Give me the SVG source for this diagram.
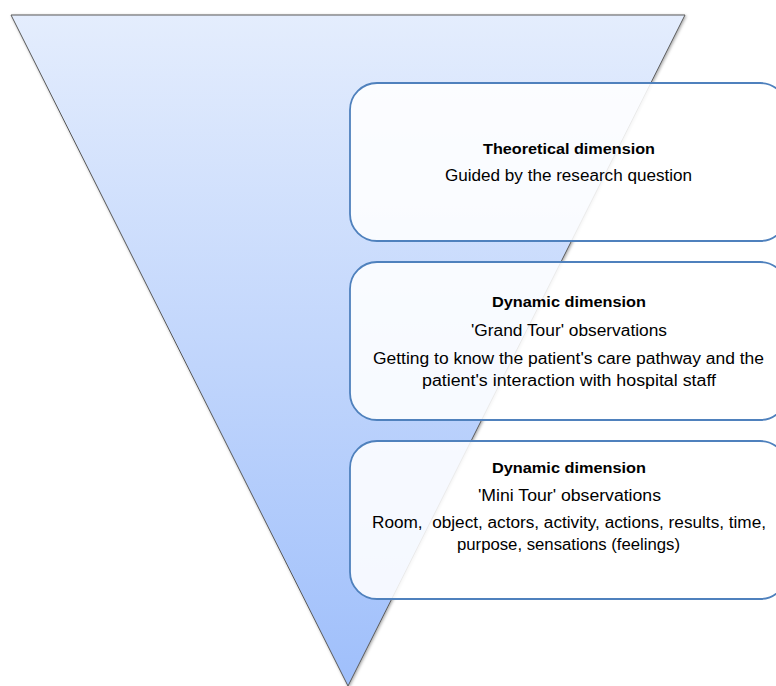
<svg xmlns="http://www.w3.org/2000/svg" width="776" height="686" viewBox="0 0 776 686">
  <defs>
    <linearGradient id="triGrad" x1="0" y1="0" x2="0" y2="1">
      <stop offset="0" stop-color="#e4edfd"/>
      <stop offset="1" stop-color="#9fbffb"/>
    </linearGradient>
    <filter id="shadow" x="-5%" y="-5%" width="110%" height="110%">
      <feDropShadow dx="1" dy="1" stdDeviation="1.5" flood-color="#000" flood-opacity="0.35"/>
    </filter>
    <style>
      .box { fill: #ffffff; fill-opacity: 0.88; stroke: #4f81bd; stroke-width: 1.8; }
      .t { font-family: "Liberation Sans", Arial, sans-serif; font-size: 16px; fill: #000; text-anchor: middle; }
      .b { font-weight: bold; font-size: 15.5px; }
    </style>
  </defs>
  <rect width="776" height="686" fill="#ffffff"/>
  <g id="funnel">
    <polygon points="11,15 685,15 348,686" fill="url(#triGrad)" stroke="#5a5a5a" stroke-width="1" filter="url(#shadow)"/>
  </g>
  <g id="node-theoretical">
    <rect class="box" x="350" y="83" width="437" height="158" rx="27" ry="27"/>
    <text class="t b" x="569" y="154" textLength="172" lengthAdjust="spacingAndGlyphs">Theoretical dimension</text>
    <text class="t" x="568.5" y="181" textLength="247" lengthAdjust="spacingAndGlyphs">Guided by the research question</text>
  </g>
  <g id="node-grand-tour">
    <rect class="box" x="350" y="262" width="437" height="158" rx="27" ry="27"/>
    <text class="t b" x="569" y="307" textLength="154" lengthAdjust="spacingAndGlyphs">Dynamic dimension</text>
    <text class="t" x="569" y="336" textLength="196" lengthAdjust="spacingAndGlyphs">'Grand Tour' observations</text>
    <text class="t" x="568.5" y="364" textLength="391" lengthAdjust="spacingAndGlyphs">Getting to know the patient's care pathway and the</text>
    <text class="t" x="569" y="386" textLength="294" lengthAdjust="spacingAndGlyphs">patient's interaction with hospital staff</text>
  </g>
  <g id="node-mini-tour">
    <rect class="box" x="350" y="441" width="437" height="158" rx="27" ry="27"/>
    <text class="t b" x="569" y="473" textLength="154" lengthAdjust="spacingAndGlyphs">Dynamic dimension</text>
    <text class="t" x="569.5" y="501" textLength="183" lengthAdjust="spacingAndGlyphs">'Mini Tour' observations</text>
    <text class="t" x="569" y="528" textLength="394" lengthAdjust="spacingAndGlyphs" xml:space="preserve">Room,  object, actors, activity, actions, results, time,</text>
    <text class="t" x="568.5" y="550" textLength="223" lengthAdjust="spacingAndGlyphs">purpose, sensations (feelings)</text>
  </g>
  <g id="connectors"></g>
</svg>
